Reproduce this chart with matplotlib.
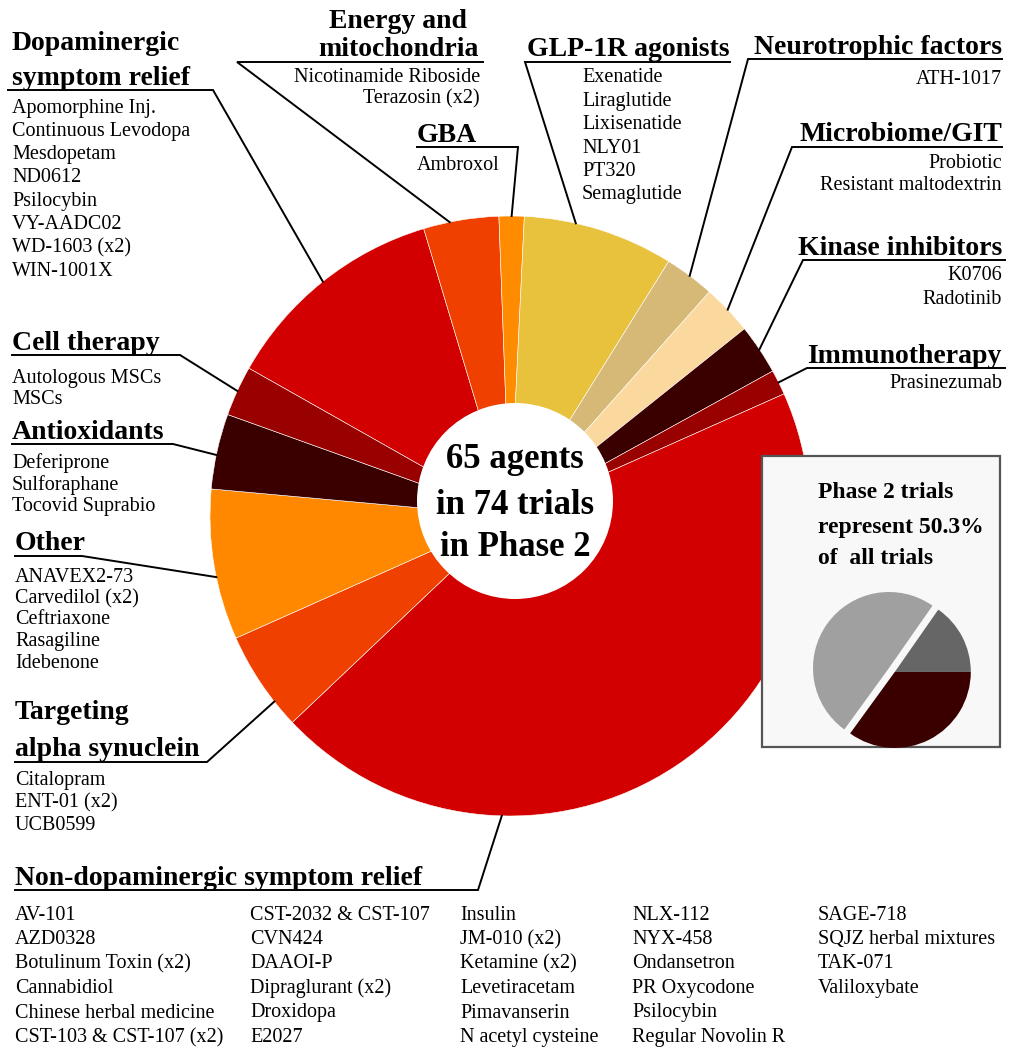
import matplotlib.pyplot as plt
from matplotlib.patches import Circle, Rectangle
import numpy as np

W, H = 1010, 1049

# ---- data -------------------------------------------------------------
categories = ['Dopaminergic symptom relief', 'Energy and mitochondria', 'GBA',
              'GLP-1R agonists', 'Neurotrophic factors', 'Microbiome/GIT',
              'Kinase inhibitors', 'Immunotherapy', 'Non-dopaminergic symptom relief',
              'Targeting alpha synuclein', 'Other', 'Antioxidants', 'Cell therapy']
trials = [9, 3, 1, 6, 2, 2, 2, 1, 33, 4, 6, 3, 2]

dopaminergic = ['Apomorphine Inj.', 'Continuous Levodopa', 'Mesdopetam', 'ND0612',
                'Psilocybin', 'VY-AADC02', 'WD-1603 (x2)', 'WIN-1001X']
energy = ['Nicotinamide Riboside', 'Terazosin (x2)']
gba = ['Ambroxol']
glp1r = ['Exenatide', 'Liraglutide', 'Lixisenatide', 'NLY01', 'PT320', 'Semaglutide']
neurotrophic = ['ATH-1017']
microbiome = ['Probiotic', 'Resistant maltodextrin']
kinase = ['K0706', 'Radotinib']
immuno = ['Prasinezumab']
alpha_syn = ['Citalopram', 'ENT-01 (x2)', 'UCB0599']
other = ['ANAVEX2-73', 'Carvedilol (x2)', 'Ceftriaxone', 'Rasagiline', 'Idebenone']
antiox = ['Deferiprone', 'Sulforaphane', 'Tocovid Suprabio']
cell = ['Autologous MSCs', 'MSCs']
nondopa_cols = [
    ['AV-101', 'AZD0328', 'Botulinum Toxin (x2)', 'Cannabidiol',
     'Chinese herbal medicine', 'CST-103 & CST-107 (x2)'],
    ['CST-2032 & CST-107', 'CVN424', 'DAAOI-P', 'Dipraglurant (x2)', 'Droxidopa', 'E2027'],
    ['Insulin', 'JM-010 (x2)', 'Ketamine (x2)', 'Levetiracetam', 'Pimavanserin',
     'N acetyl cysteine'],
    ['NLX-112', 'NYX-458', 'Ondansetron', 'PR Oxycodone', 'Psilocybin', 'Regular Novolin R'],
    ['SAGE-718', 'SQJZ herbal mixtures', 'TAK-071', 'Valiloxybate'],
]

# inset pie: share of all trials (Phase 2 = 50.3%)
inset_labels = ['Phase 3', 'Other phases', 'Phase 2 (rest)']
inset_share = [15.3, 49.7, 35.0]
phase2_pct = 50.3

colors = ['#d20000', '#f04000', '#ff8c00', '#e8c23c', '#d6b877', '#fbd99e',
          '#3a0000', '#990000', '#d20000', '#f04000', '#ff8800', '#3a0000', '#990000']
inset_colors = ['#666666', '#a0a0a0', '#3a0000']

plt.rcParams['font.family'] = ['Liberation Serif', 'DejaVu Serif']


def Y(py):
    # pixel row (from top) -> data y
    return H - py


fig = plt.figure(figsize=(W / 100, H / 100), dpi=100)
ax = fig.add_axes([0, 0, 1, 1])

cx, cy, R = 510, Y(516), 300
wedges, _ = ax.pie(trials, colors=colors, startangle=150.5, counterclock=False,
                   radius=R, center=(cx, cy),
                   wedgeprops=dict(edgecolor='white', linewidth=0.4))
ax.add_patch(Circle((515, Y(501)), 98, facecolor='white', edgecolor='none', zorder=2))

for line, row in zip(['65 agents', 'in 74 trials', 'in Phase 2'], [460, 505, 548]):
    ax.text(515, Y(row), line, ha='center', va='center', fontsize=25,
            fontweight='bold', zorder=3)

# ---- labels --------------------------------------------------------------
HEAD = 20
ITEM = 14.5

# header lines, header x, header ha, baseline rows, underline (x_far, x_near, row),
# anchor fraction along wedge, item list, item x, item ha, first item row, item step
layout = [
    (['Dopaminergic', 'symptom relief'], 12, 'left', [50, 85], (8, 213, 90), 0.5,
     dopaminergic, 12, 'left', 108, 23.3),
    (['Energy and', 'mitochondria'], 398, 'center', [28, 56], (483, 237, 62), 0.35,
     energy, 480, 'right', 77, 22),
    (['GBA'], 417, 'left', [142], (417, 518, 147), 0.5,
     gba, 417, 'left', 165, 22),
    (['GLP-1R agonists'], 527, 'left', [56], (730, 525, 62), 0.34,
     glp1r, 582, 'left', 78, 23.4),
    (['Neurotrophic factors'], 1002, 'right', [54], (1002, 748, 59), 0.5,
     neurotrophic, 1002, 'right', 79, 22),
    (['Microbiome/GIT'], 1002, 'right', [141], (1002, 792, 147), 0.5,
     microbiome, 1002, 'right', 163, 23),
    (['Kinase inhibitors'], 1002, 'right', [255], (1005, 803, 260), 0.5,
     kinase, 1002, 'right', 276, 23),
    (['Immunotherapy'], 1002, 'right', [363], (1005, 807, 368), 0.5,
     immuno, 1002, 'right', 383, 22),
    (['Non-dopaminergic symptom relief'], 15, 'left', [885], (15, 478, 890), 0.72,
     [], 15, 'left', 0, 0),
    (['Targeting', 'alpha synuclein'], 15, 'left', [719, 756], (15, 207, 762), 0.27,
     alpha_syn, 15, 'left', 781, 22),
    (['Other'], 15, 'left', [550], (15, 82, 556), 0.42,
     other, 15, 'left', 577, 21.5),
    (['Antioxidants'], 12, 'left', [439], (12, 173, 444), 0.45,
     antiox, 12, 'left', 463, 22),
    (['Cell therapy'], 12, 'left', [350], (12, 180, 355), 0.5,
     cell, 12, 'left', 378, 21),
]

for w, (head, hx, hha, hrows, ul, frac, items, ix, iha, iy0, istep) in zip(wedges, layout):
    for line, row in zip(head, hrows):
        ax.text(hx, Y(row), line, ha=hha, va='baseline', fontsize=HEAD,
                fontweight='bold', zorder=5)
    # leader: underline under header, then to the wedge edge
    ang = np.deg2rad(w.theta2 - frac * (w.theta2 - w.theta1))
    px, py = cx + R * np.cos(ang), cy + R * np.sin(ang)
    x_far, x_near, urow = ul
    ax.plot([x_far, x_near, px], [Y(urow), Y(urow), py], color='black', lw=1.4,
            solid_joinstyle='miter', zorder=5)
    for k, item in enumerate(items):
        ax.text(ix, Y(iy0 + k * istep), item, ha=iha, va='center', fontsize=ITEM, zorder=5)

col_x = [15, 250, 460, 632, 818]
for x, col in zip(col_x, nondopa_cols):
    for k, item in enumerate(col):
        ax.text(x, Y(915 + k * 24.5), item, ha='left', va='center', fontsize=ITEM)

# ---- inset ---------------------------------------------------------------
ax.add_patch(Rectangle((762, Y(747)), 238, 291, facecolor='#f8f8f8',
                       edgecolor='#555555', lw=1.6, zorder=6))
inset_lines = ['Phase 2 trials', f'represent {phase2_pct}%', 'of  all trials']
for line, row in zip(inset_lines, [493, 527, 558]):
    ax.text(818, Y(row), line, ha='left', va='center', fontsize=17,
            fontweight='bold', zorder=7)

icx, icy, ir = 889, Y(668), 76
iw, _ = ax.pie(inset_share, colors=inset_colors, startangle=0, counterclock=True,
               radius=ir, center=(icx, icy), wedgeprops=dict(zorder=7, linewidth=0))
# pull the Phase 2 group away from the rest
off = np.deg2rad(-34)
for k in (0, 2):
    iw[k].set_center((icx + 7 * np.cos(off), icy + 7 * np.sin(off)))

ax.set_xlim(0, W)
ax.set_ylim(0, H)
ax.set_aspect('auto')
ax.axis('off')

fig.savefig('out.png', dpi=100, facecolor='white')
